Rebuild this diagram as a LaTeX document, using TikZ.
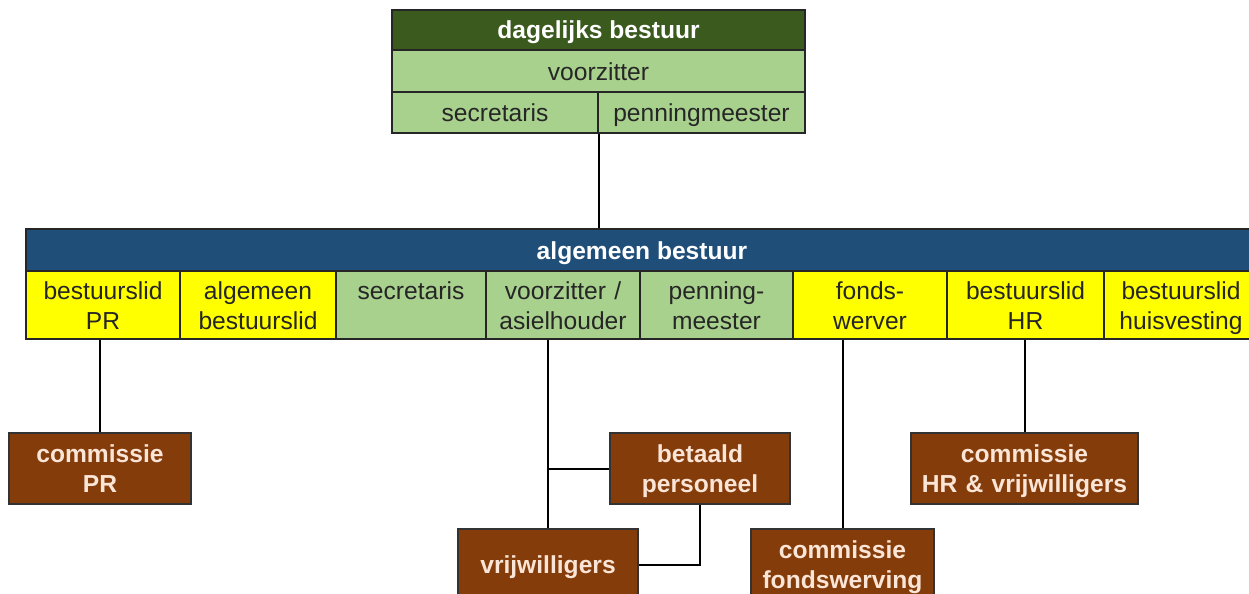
\documentclass[tikz,border=0pt]{standalone}
\usepackage{fontspec}
\setmainfont{Liberation Sans}
\definecolor{dbgreen}{HTML}{3A5A1E}
\definecolor{ltgreen}{HTML}{A9D18E}
\definecolor{abnavy}{HTML}{1F4E79}
\definecolor{cellyellow}{HTML}{FFFF00}
\definecolor{combrown}{HTML}{843C0B}
\definecolor{comtext}{HTML}{FBE5D6}
\newcommand{\topstrut}{\rule{0pt}{12pt}}
\newcommand{\botstrut}{\rule[-3pt]{0pt}{3pt}}
\begin{document}
\begin{tikzpicture}[x=0.5pt,y=-0.5pt,
    cell/.style={draw=black!85,line width=0.9pt,inner sep=0pt,align=center,
      font=\fontsize{12.3}{15}\selectfont,text=black!85,
      execute at begin node=\topstrut,execute at end node=\botstrut},
    head/.style={cell,font=\fontsize{12.3}{15}\selectfont\bfseries,text=white},
    green/.style={cell,fill=ltgreen},
    yellow/.style={cell,fill=cellyellow},
    rowcell/.style={minimum height=34pt,text width=72pt},
    committee/.style={draw=black!80,line width=0.9pt,inner sep=0pt,align=center,
      fill=combrown,text=comtext,font=\fontsize{12.3}{15}\selectfont\bfseries,
      minimum height=35.5pt,text width=86pt,
      execute at begin node=\topstrut,execute at end node=\botstrut},
    link/.style={draw=black,line width=1pt}]
  \clip (0,0) rectangle (1249,594);

  % dagelijks bestuur
  \node[head,fill=dbgreen,minimum width=206.5pt,minimum height=20pt] (db-head) at (598.5,30) {dagelijks bestuur};
  \node[green,minimum width=206.5pt,minimum height=21pt] (db-vz) at (598.5,71) {voorzitter};
  \node[green,minimum width=103pt,minimum height=20.5pt] (db-sec) at (495,112.5) {secretaris};
  \node[green,minimum width=103.5pt,minimum height=20.5pt] (db-pen) at (701.5,112.5) {penningmeester};

  % algemeen bestuur
  \node[head,fill=abnavy,minimum width=616pt,minimum height=21pt] (ab-head) at (642,250) {algemeen bestuur};
  \node[yellow,rowcell,minimum width=77pt] (ab-pr) at (103,305) {bestuurslid\\PR};
  \node[yellow,rowcell,minimum width=78pt] (ab-alg) at (258,305) {algemeen\\bestuurslid};
  \node[green,rowcell,minimum width=75pt] (ab-sec) at (411,305) {secretaris\\\mbox{}};
  \node[green,rowcell,minimum width=77pt] (ab-vz) at (563,305) {voorzitter /\\asielhouder};
  \node[green,rowcell,minimum width=76.5pt] (ab-pen) at (716.5,305) {penning-\\meester};
  \node[yellow,rowcell,minimum width=77pt] (ab-fw) at (870,305) {fonds-\\werver};
  \node[yellow,rowcell,minimum width=78.5pt] (ab-hr) at (1025.5,305) {bestuurslid\\HR};
  \node[yellow,rowcell,minimum width=77pt] (ab-hv) at (1181,305) {bestuurslid\\huisvesting};

  % commissies
  \node[committee,minimum width=91pt] (com-pr) at (100,468.5) {commissie\\PR};
  \node[committee,minimum width=90pt] (betaald) at (700,468.5) {betaald\\personeel};
  \node[committee,minimum width=113.5pt,text width=110pt] (com-hr) at (1024.5,468.5) {commissie\\HR \& vrijwilligers};
  \node[committee,minimum width=90pt] (vrijw) at (548,564.5) {vrijwilligers};
  \node[committee,minimum width=91.5pt] (com-fw) at (842.5,564.5) {commissie\\fondswerving};

  \draw[link] (db-sec.south east) -- (db-sec.south east |- ab-head.north);
  \draw[link] (com-pr.north) -- (com-pr.north |- ab-pr.south);
  \draw[link] (vrijw.north) -- (vrijw.north |- ab-vz.south);
  \draw[link] (betaald.west -| vrijw.north) -- (betaald.west);
  \draw[link] (betaald.south) -- (betaald.south |- vrijw.east) -- (vrijw.east);
  \draw[link] (com-fw.north) -- (com-fw.north |- ab-fw.south);
  \draw[link] (com-hr.north) -- (com-hr.north |- ab-hr.south);
\end{tikzpicture}
\end{document}
